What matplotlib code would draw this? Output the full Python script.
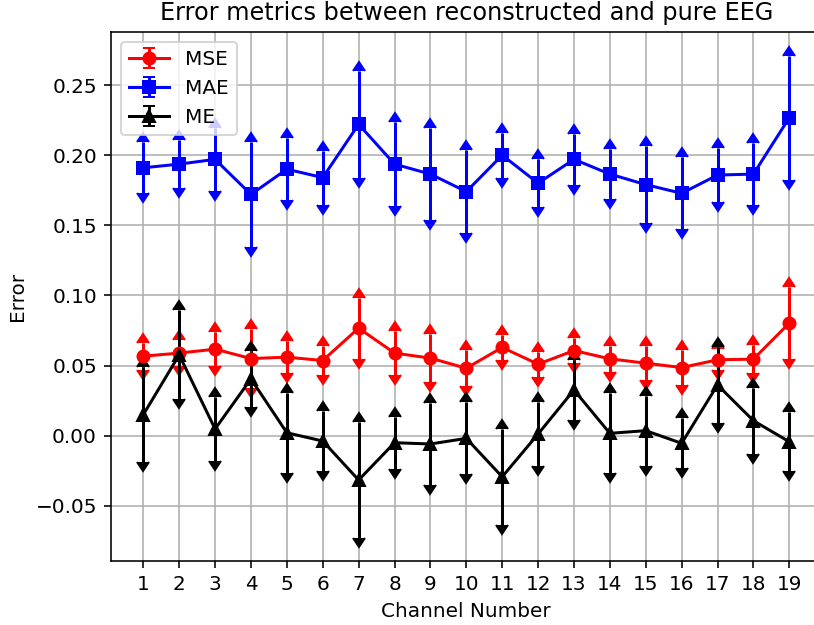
import numpy as np
import matplotlib
matplotlib.use("Agg")
import matplotlib.pyplot as plt

channels = list(range(1, 20))

mse = [0.0567, 0.0589, 0.0617, 0.0550, 0.0560, 0.0536, 0.0767, 0.0589, 0.0553, 0.0481,
       0.0629, 0.0510, 0.0607, 0.0548, 0.0517, 0.0486, 0.0541, 0.0546, 0.0803]
mse_std = [0.0096, 0.0090, 0.0123, 0.0212, 0.0116, 0.0102, 0.0218, 0.0156, 0.0170, 0.0129,
           0.0090, 0.0090, 0.0090, 0.0093, 0.0123, 0.0125, 0.0075, 0.0102, 0.0258]

mae = [0.1910, 0.1936, 0.1970, 0.1720, 0.1900, 0.1840, 0.2220, 0.1936, 0.1865, 0.1740,
       0.2000, 0.1800, 0.1970, 0.1865, 0.1790, 0.1728, 0.1858, 0.1865, 0.2267]
mae_std = [0.0181, 0.0172, 0.0223, 0.0375, 0.0220, 0.0193, 0.0382, 0.0297, 0.0330, 0.0294,
           0.0161, 0.0172, 0.0180, 0.0177, 0.0275, 0.0258, 0.0193, 0.0222, 0.0442]

me = [0.0150, 0.0576, 0.0048, 0.0405, 0.0021, -0.0038, -0.0316, -0.0050, -0.0059, -0.0019,
      -0.0293, 0.0012, 0.0326, 0.0017, 0.0036, -0.0054, 0.0362, 0.0107, -0.0043]
me_std = [0.0340, 0.0317, 0.0225, 0.0198, 0.0287, 0.0214, 0.0412, 0.0184, 0.0289, 0.0257,
          0.0340, 0.0230, 0.0213, 0.0284, 0.0250, 0.0179, 0.0273, 0.0236, 0.0210]

fig = plt.figure(figsize=(814 / 144, 625 / 144), dpi=144)
ax = fig.add_axes([111 / 814, 1 - 560.7 / 625, 710.6 / 814, 529 / 625])

series = [(mse, mse_std, 'r', 'o', 'MSE'),
          (mae, mae_std, 'b', 's', 'MAE'),
          (me, me_std, 'k', '^', 'ME')]

for vals, std, c, m, lab in series:
    # upper half with up arrow, lower half with down arrow
    ax.errorbar(channels, vals, yerr=std, lolims=True, color=c, marker=m,
                linestyle='-', label=lab)
    ax.errorbar(channels, vals, yerr=std, uplims=True, color=c, fmt='none')

ax.set_xlim(0.1, 19.9)
ax.set_ylim(-0.0891, 0.288)
ax.set_xticks(channels)
ax.set_xlabel("Channel Number")
ax.set_ylabel("Error")
ax.set_title("Error metrics between reconstructed and pure EEG")
ax.grid(True)
ax.legend(loc='upper left')

fig.savefig("out.png", dpi=144)
